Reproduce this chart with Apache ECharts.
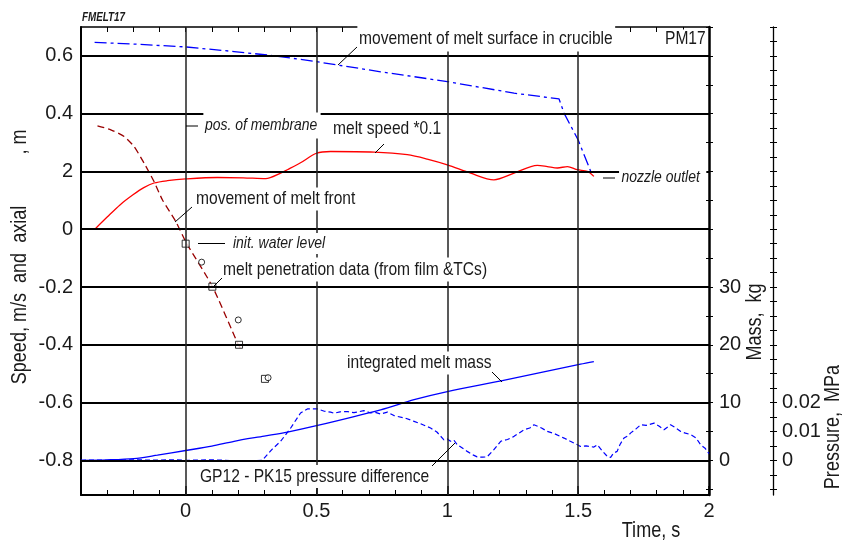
<!DOCTYPE html>
<html><head><meta charset="utf-8">
<script src="https://cdn.jsdelivr.net/npm/echarts@6/dist/echarts.min.js"></script>
<style>html,body{margin:0;padding:0;background:#fff}#c{width:849px;height:540px}</style>
</head><body><div id="c"></div>
<script>
// ---------- data ----------
const surfaceT = [-0.348, -0.2, 0, 0.185, 0.312, 0.439, 0.5, 0.745, 1.0, 1.255, 1.427, 1.446, 1.5, 1.548, 1.554];
const surfaceZ = [0.647, 0.641, 0.631, 0.615, 0.603, 0.588, 0.580, 0.545, 0.511, 0.471, 0.451, 0.402, 0.309, 0.200, 0.188];

const speedT = [-0.347, -0.3, -0.25, -0.2, -0.16, -0.121, -0.07, 0, 0.121, 0.22, 0.306, 0.363, 0.389, 0.439, 0.5, 0.554, 0.72, 0.847, 0.923, 1.0, 1.089, 1.178, 1.255, 1.344, 1.382, 1.421, 1.459, 1.497, 1.535, 1.56];
const speedV = [0, 0.42, 0.85, 1.20, 1.44, 1.60, 1.68, 1.74, 1.79, 1.78, 1.75, 1.94, 2.06, 2.30, 2.63, 2.69, 2.67, 2.58, 2.43, 2.23, 1.94, 1.71, 1.94, 2.21, 2.17, 2.12, 2.17, 2.06, 2.0, 1.83];

const frontT = [-0.337, -0.286, -0.235, -0.197, -0.159, -0.121, -0.089, -0.038, 0.003, 0.102, 0.201, 0.213];
const frontZ = [0.358, 0.344, 0.321, 0.286, 0.229, 0.165, 0.102, 0.027, -0.048, -0.198, -0.399, -0.417];

const filmT = [0, 0.102, 0.204, 0.303];
const filmZ = [-0.05, -0.199, -0.4, -0.518];
const tcT = [0.061, 0.201, 0.315];
const tcZ = [-0.114, -0.314, -0.514];

const massT = [-0.4, -0.3, -0.198, -0.108, 0, 0.1, 0.185, 0.3, 0.389, 0.5, 0.745, 0.873, 1.0, 1.21, 1.509, 1.56];
const massKg = [0, 0.08, 0.3, 0.9, 1.7, 2.45, 3.3, 4.2, 4.9, 6.0, 8.75, 10.5, 11.9, 13.8, 16.65, 17.1];

const pressT = [-0.4, -0.35, -0.3, -0.25, -0.2, -0.15, -0.1, -0.05, 0, 0.05, 0.1, 0.15, 0.2, 0.23, 0.26, 0.293,
  0.33, 0.363, 0.40, 0.439, 0.465, 0.503, 0.53, 0.554, 0.567, 0.59, 0.618, 0.643, 0.66, 0.681, 0.707, 0.725, 0.745, 0.771, 0.796, 0.809, 0.84, 0.873, 0.9, 0.936, 0.96, 0.987,
  1.0, 1.012, 1.025, 1.038, 1.076, 1.1, 1.114, 1.135, 1.152, 1.178, 1.204, 1.23, 1.255, 1.275, 1.293, 1.315, 1.331, 1.345, 1.36, 1.382, 1.41, 1.446, 1.47, 1.497, 1.509, 1.53, 1.56, 1.573, 1.59,
  1.611, 1.624, 1.635, 1.649, 1.66, 1.675, 1.69, 1.701, 1.72, 1.739, 1.76, 1.79, 1.81, 1.828, 1.853, 1.87, 1.892, 1.91, 1.93, 1.95, 1.968, 1.985, 2.0];
const pressP = [0, 0.0001, 0, 0.0001, 0.0002, 0.0001, 0.0001, 0.0002, 0, 0.0001, 0.0002, 0, -0.0002, -0.0004, -0.0001, 0,
  0.0038, 0.0066, 0.011, 0.0164, 0.0178, 0.0178, 0.0170, 0.0167, 0.0163, 0.0168, 0.0169, 0.0165, 0.0168, 0.0172, 0.0164, 0.0166, 0.0160, 0.0167, 0.0155, 0.0152, 0.0146, 0.0135, 0.0126, 0.0112, 0.0098, 0.0071,
  0.0074, 0.0066, 0.0070, 0.0054, 0.0031, 0.0018, 0.0012, 0.0011, 0.0012, 0.0037, 0.0066, 0.0072, 0.0083, 0.0095, 0.0106, 0.0112, 0.0123, 0.0118, 0.0112, 0.0100, 0.0092, 0.0077, 0.0066, 0.0054, 0.0048, 0.0050, 0.0046, 0.0054, 0.0035,
  0.0014, 0.0010, 0.0025, 0.0031, 0.0055, 0.0077, 0.0085, 0.0095, 0.0108, 0.0123, 0.0121, 0.0129, 0.0118, 0.0106, 0.0123, 0.0114, 0.0100, 0.0094, 0.0089, 0.0078, 0.0054, 0.0042, 0.0023];

const gridY = [0.6, 0.4, 0.2, 0, -0.2, -0.4, -0.6, -0.8];
const gridX = [0, 0.5, 1, 1.5];
const leftTickValues = [-0.8, -0.6, -0.4, -0.2, 0, 0.2, 0.4, 0.6];
const leftTickLabels = ['-0.8', '-0.6', '-0.4', '-0.2', '0', '2', '0.4', '0.6'];
const xTickValues = [0, 0.5, 1, 1.5, 2];
const xTickLabels = ['0', '0.5', '1', '1.5', '2'];
const massTickValues = [0, 10, 20, 30];
const massTickLabels = ['0', '10', '20', '30'];
const pressTickValues = [0, 0.01, 0.02];
const pressTickLabels = ['0', '0.01', '0.02'];

// ---------- chart ----------
const FONT = '"Liberation Sans", Arial, sans-serif';
const TXT = '#1a1a1a';
const SX = 0.82; // narrow face emulation for annotations
const zip = (a, b) => a.map((v, i) => [v, b[i]]);
const massMinor = []; for (let v = -5; v <= 75; v += 5) massMinor.push(v);
const pressMinor = []; for (let k = -2; k <= 30; k++) pressMinor.push(+(k * 0.005).toFixed(3));

const chart = echarts.init(document.getElementById('c'), null, {renderer: 'canvas'});
const lbl = (vals, labs) => (v) => { const i = vals.findIndex(x => Math.abs(x - v) < 1e-9); return i >= 0 ? labs[i] : ''; };

const axisTxt = {fontFamily: FONT, fontSize: 20, color: TXT};

function T(text, left, cy, font, pad) {
  pad = pad || [0, 0, 0, 0];
  return {
    type: 'text', z: 100,
    x: left - pad[3] * SX, y: cy - (pad[0] - pad[2]) / 2, scaleX: SX,
    style: {text: text, font: font, fill: TXT, align: 'left', verticalAlign: 'middle',
      backgroundColor: '#fff', padding: pad}
  };
}
function N(text, cx, cy, rot) {
  return {type: 'text', z: 100, x: cx, y: cy, rotation: rot, scaleX: SX,
    style: {text: text, font: '22px ' + FONT, fill: TXT, align: 'center', verticalAlign: 'middle'}};
}
function L(x1, y1, x2, y2) {
  return {type: 'line', z: 101, shape: {x1, y1, x2, y2}, style: {stroke: '#000', lineWidth: 1}};
}
const F19 = '19px ' + FONT, I17 = 'italic 17px ' + FONT;

chart.setOption({
  animation: false,
  backgroundColor: '#fff',
  grid: {left: 81, top: 27, width: 628, height: 468, containLabel: false},
  xAxis: [
    {type: 'value', position: 'bottom', min: -0.4, max: 2, interval: 0.1,
      axisLine: {show: true, onZero: false, lineStyle: {color: '#000', width: 2}},
      axisTick: {show: true, inside: true, length: 5, lineStyle: {color: '#000', width: 1}},
      axisLabel: Object.assign({show: true, margin: 6, customValues: xTickValues, formatter: lbl(xTickValues, xTickLabels)}, axisTxt),
      splitLine: {show: false}},
    {type: 'value', position: 'top', min: -0.4, max: 2, interval: 0.1,
      axisLine: {show: true, onZero: false, lineStyle: {color: '#000', width: 1.5}},
      axisTick: {show: true, inside: true, length: 5, lineStyle: {color: '#000', width: 1}},
      axisLabel: {show: false}, splitLine: {show: false}},
    {type: 'value', position: 'bottom', min: -0.4, max: 2,
      axisLine: {show: false, onZero: false},
      axisTick: {show: true, inside: true, length: 9, customValues: xTickValues, lineStyle: {color: '#000', width: 1.5}},
      axisLabel: {show: false}, splitLine: {show: false}}
  ],
  yAxis: [
    {type: 'value', position: 'left', min: -0.92, max: 0.7,
      axisLine: {show: true, onZero: false, lineStyle: {color: '#000', width: 2}},
      axisTick: {show: false},
      axisLabel: Object.assign({show: true, margin: 8, customValues: leftTickValues, formatter: lbl(leftTickValues, leftTickLabels)}, axisTxt),
      splitLine: {show: false}},
    {type: 'value', position: 'right', offset: 0, min: -6, max: 75,
      axisLine: {show: true, onZero: false, lineStyle: {color: '#000', width: 2.5}},
      axisTick: {show: true, length: 4, customValues: massMinor, lineStyle: {color: '#000', width: 1}},
      axisLabel: Object.assign({show: true, margin: 10, customValues: massTickValues, formatter: lbl(massTickValues, massTickLabels)}, axisTxt),
      splitLine: {show: false}},
    {type: 'value', position: 'right', offset: 64, min: -0.012, max: 0.15,
      axisLine: {show: true, onZero: false, lineStyle: {color: '#000', width: 1.3}},
      axisTick: {show: true, length: 4, customValues: pressMinor, lineStyle: {color: '#000', width: 1}},
      axisLabel: Object.assign({show: true, margin: 9, customValues: pressTickValues, formatter: lbl(pressTickValues, pressTickLabels)}, axisTxt),
      splitLine: {show: false}},
    {type: 'value', position: 'right', offset: 0, min: -6, max: 75,
      axisLine: {show: false, onZero: false},
      axisTick: {show: true, inside: true, length: 3, customValues: massMinor, lineStyle: {color: '#000', width: 1}},
      axisLabel: {show: false}, splitLine: {show: false}},
    {type: 'value', position: 'right', offset: 64, min: -0.012, max: 0.15,
      axisLine: {show: false, onZero: false},
      axisTick: {show: true, inside: true, length: 3, customValues: pressMinor, lineStyle: {color: '#000', width: 1}},
      axisLabel: {show: false}, splitLine: {show: false}}
  ],
  series: [
    {type: 'line', name: 'gridH', data: [], z: 1, silent: true,
      markLine: {silent: true, symbol: ['none', 'none'], label: {show: false}, animation: false,
        lineStyle: {color: '#000', width: 2, type: 'solid'}, data: gridY.map(v => ({yAxis: v}))}},
    {type: 'line', name: 'gridV', data: [], z: 1, silent: true,
      markLine: {silent: true, symbol: ['none', 'none'], label: {show: false}, animation: false,
        lineStyle: {color: '#222', width: 1.5, type: 'solid'}, data: gridX.map(v => ({xAxis: v}))}},
    {type: 'line', name: 'movement of melt surface in crucible', z: 3, data: zip(surfaceT, surfaceZ), showSymbol: false,
      lineStyle: {color: '#0000ff', width: 1.3, type: [12, 4, 3, 4]}},
    {type: 'line', name: 'melt speed *0.1', z: 3, data: zip(speedT, speedV.map(v => v * 0.1)), showSymbol: false,
      smooth: 0.3, lineStyle: {color: '#ff0000', width: 1.3}},
    {type: 'line', name: 'movement of melt front', z: 3, data: zip(frontT, frontZ), showSymbol: false,
      smooth: 0.2, lineStyle: {color: '#990000', width: 1.3, type: [7, 4]}},
    {type: 'line', name: 'integrated melt mass', yAxisIndex: 1, z: 3, data: zip(massT, massKg), showSymbol: false,
      smooth: 0.3, lineStyle: {color: '#0000ff', width: 1.3}},
    {type: 'line', name: 'GP12 - PK15 pressure difference', yAxisIndex: 2, z: 3, data: zip(pressT, pressP), showSymbol: false,
      lineStyle: {color: '#0000ff', width: 1.2, type: [5, 3]}},
    {type: 'scatter', name: 'film', z: 4, data: zip(filmT, filmZ), symbol: 'rect', symbolSize: 7,
      itemStyle: {color: '#fff', borderColor: '#000', borderWidth: 1}},
    {type: 'scatter', name: 'TCs', z: 4, data: zip(tcT, tcZ), symbol: 'circle', symbolSize: 6,
      itemStyle: {color: '#fff', borderColor: '#000', borderWidth: 1}}
  ],
  graphic: [
    T('FMELT17', 82, 18, 'italic bold 12px ' + FONT),
    T('movement of melt surface in crucible', 359, 39, F19, [4, 3, 3, 2]),
    L(338, 65, 357, 47),
    T('PM17', 665, 39, F19),
    T('pos. of membrane', 205, 126, I17, [5, 4, 4, 2]),
    L(186, 126, 198, 126),
    T('melt speed *0.1', 333, 128, F19, [1, 2, 2, 2]),
    L(375, 153, 384, 144),
    T('nozzle outlet', 621.5, 178, I17, [3, 8, 2, 3]),
    L(603, 178, 615, 178),
    T('movement of melt front', 196, 199, F19, [2, 2, 2, 2]),
    L(175, 222, 192, 207),
    T('init. water level', 233, 243.5, I17, [2, 2, 2, 2]),
    L(198, 243.5, 225, 243.5),
    T('melt penetration data (from film &TCs)', 223, 270, F19, [3, 2, 2, 2]),
    L(213, 287, 222, 278),
    T('integrated melt mass', 347, 363, F19, [2, 2, 2, 2]),
    L(492, 372, 502, 382),
    T('GP12 - PK15 pressure difference', 200, 476.5, F19, [2, 2, 2, 2]),
    L(432, 466, 455, 443),
    N('Time, s', 651, 531, 0),
    N('Speed, m/s  and  axial', 20, 295, Math.PI / 2),
    N(', m', 20, 142, Math.PI / 2),
    N('Mass,  kg', 755, 322, Math.PI / 2),
    N('Pressure,  MPa', 833, 427, Math.PI / 2)
  ]
});
</script></body></html>
